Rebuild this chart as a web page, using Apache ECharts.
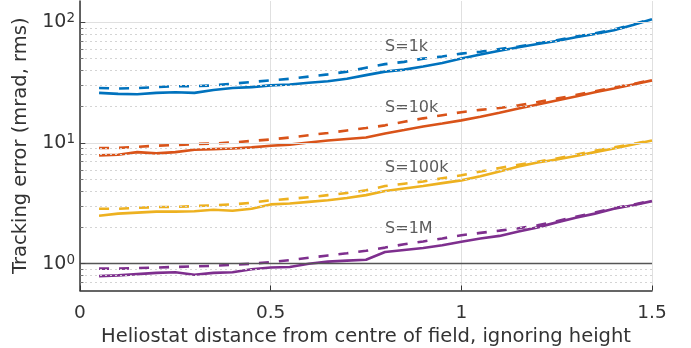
<!DOCTYPE html>
<html><head><meta charset="utf-8">
<script src="https://cdn.jsdelivr.net/npm/echarts@6/dist/echarts.min.js"></script>
<style>html,body{margin:0;padding:0;background:#fff}#c{width:691px;height:348px}</style>
</head><body><div id="c"></div>
<script>
const xValues = [0.05,0.1,0.15,0.2,0.25,0.3,0.35,0.4,0.45,0.5,0.55,0.6,0.65,0.7,0.75,0.8,0.85,0.9,0.95,1.0,1.05,1.1,1.15,1.2,1.25,1.3,1.35,1.4,1.45,1.5];

const s1kSolid  = [26,25.5,25.3,26,26.3,26,27.5,28.5,29,30,30.5,31.5,32.5,34,36.5,39,40.5,43,46,50,54,58,62,66,70,75,80,86,95,106];
const s1kDashed = [28.5,28.3,28.5,29,29.5,29.5,30,31,32,33,34,35.5,37,39,42,45,47,50,52,55,57,60,63,67,71,76,81,87,96,107];
const s10kSolid  = [7.9,8.0,8.4,8.2,8.4,8.8,8.9,9.0,9.2,9.5,9.7,10.1,10.5,10.8,11.1,12.0,12.8,13.7,14.5,15.4,16.5,17.8,19.3,20.8,22.5,24.3,26.3,28.3,30.5,33];
const s10kDashed = [9.1,9.1,9.3,9.5,9.6,9.8,9.9,10.1,10.4,10.7,11.1,11.6,12.1,12.7,13.3,14.0,15.0,16.0,17.0,18.0,18.8,19.5,20.5,21.8,23.3,25,26.8,28.7,30.8,33.3];
const s100kSolid  = [2.5,2.6,2.65,2.7,2.7,2.72,2.8,2.75,2.85,3.1,3.15,3.25,3.35,3.5,3.7,4.0,4.2,4.4,4.65,4.9,5.3,5.8,6.4,6.9,7.3,7.8,8.4,9.0,9.7,10.5];
const s100kDashed = [2.85,2.85,2.9,2.95,2.95,3.0,3.05,3.1,3.2,3.35,3.45,3.55,3.7,3.85,4.05,4.4,4.6,4.8,5.1,5.4,5.8,6.2,6.6,7.0,7.45,8.0,8.6,9.2,9.8,10.6];
const s1MSolid  = [0.79,0.80,0.82,0.84,0.85,0.81,0.84,0.85,0.90,0.93,0.94,1.0,1.04,1.06,1.08,1.25,1.3,1.35,1.42,1.52,1.62,1.7,1.85,2.0,2.2,2.4,2.6,2.85,3.05,3.3];
const s1MDashed = [0.91,0.91,0.92,0.93,0.94,0.95,0.96,0.98,1.0,1.03,1.07,1.12,1.17,1.22,1.28,1.36,1.45,1.53,1.62,1.72,1.8,1.88,1.97,2.08,2.25,2.45,2.65,2.88,3.08,3.33];

const annotText = ['S=1k','S=10k','S=100k','S=1M'];
const annotX = [0.80,0.80,0.80,0.80];
const annotY = [63,19.5,6.2,1.94];

const minorGrid = [0.7,0.8,0.9,2,3,4,5,6,7,8,9,20,30,40,50,60,70,80,90];
const majorGrid = [10,100];
const unityLine = [1];
const majorTickVals = [1,10,100];

const colors = ['#0072BD','#D95319','#EDB120','#7E2F8E'];
const FONT = '"DejaVu Sans", sans-serif';
const TXT = '#333';

const pairs = [[s1kSolid,s1kDashed],[s10kSolid,s10kDashed],[s100kSolid,s100kDashed],[s1MSolid,s1MDashed]];
const series = [];
function gridLines(vals, style){
  return {type:'line', data:[], silent:true, z:1,
    markLine:{silent:true, symbol:'none', label:{show:false}, animation:false, lineStyle:style,
      data: vals.map(v=>({yAxis:v}))}};
}
function tickMarks(vals, x0, x1, style){
  return {type:'line', data:[], silent:true, z:2,
    markLine:{silent:true, symbol:'none', label:{show:false}, animation:false, lineStyle:style,
      data: vals.map(v=>[{coord:[x0,v]},{coord:[x1,v]}])}};
}
series.push(gridLines(minorGrid, {color:'#d4d4d4', width:1, type:[2,3]}));
series.push(gridLines(majorGrid, {color:'#e0e0e0', width:1, type:'solid'}));
series.push(gridLines(unityLine, {color:'#555', width:1.3, type:'solid'}));
series.push(tickMarks(minorGrid, 0, 0.009, {color:'#777', width:1, type:'solid'}));
series.push(tickMarks(majorTickVals, 0, 0.014, {color:'#444', width:1, type:'solid'}));
pairs.forEach((p,k)=>{
  series.push({type:'line', data:xValues.map((x,i)=>[x,p[0][i]]), showSymbol:false, symbol:'none',
    lineStyle:{color:colors[k], width:2.6}, z:3, animation:false});
  series.push({type:'line', data:xValues.map((x,i)=>[x,p[1][i]]), showSymbol:false, symbol:'none',
    lineStyle:{color:colors[k], width:2.6, type:[10,10]}, z:3, animation:false});
});
series.push({type:'scatter', symbolSize:0, animation:false, z:5,
  data: annotText.map((t,i)=>({value:[annotX[i],annotY[i]], name:t})),
  label:{show:true, position:'right', distance:0, formatter:p=>p.name, color:TXT, fontSize:16, fontFamily:FONT, align:'left', verticalAlign:'middle'}
});

const chart = echarts.init(document.getElementById('c'), null, {renderer:'canvas'});
chart.setOption({
  animation:false,
  backgroundColor:'#fff',
  grid:{left:80, right:39, top:1, bottom:57.5, containLabel:false, outerBoundsMode:'none'},
  xAxis:{type:'value', min:0, max:1.5, interval:0.5,
    name:'Heliostat distance from centre of field, ignoring height', nameLocation:'middle', nameGap:29,
    nameTextStyle:{fontSize:19.5, color:TXT, fontFamily:FONT},
    axisLine:{show:true, lineStyle:{color:'#333', width:1.5}},
    axisTick:{show:true, inside:true, length:5, lineStyle:{color:'#333'}},
    axisLabel:{fontSize:18.5, color:TXT, fontFamily:FONT, margin:13},
    splitLine:{show:true, lineStyle:{color:'#e0e0e0', width:1}}
  },
  yAxis:{type:'log', logBase:10, min:0.6, max:150,
    name:'Tracking error (mrad, rms)', nameLocation:'middle', nameGap:43, nameRotate:90,
    nameTextStyle:{fontSize:19.5, color:TXT, fontFamily:FONT},
    axisLine:{show:true, lineStyle:{color:'#333', width:1.5}},
    axisTick:{show:false},
    axisLabel:{margin:5, color:TXT, fontFamily:FONT,
      formatter:function(v){const l=Math.log10(v);const n=Math.round(l); if(Math.abs(l-n)>1e-6) return ''; return '{b|10}{s|'+n+'}';},
      rich:{b:{fontSize:19, color:TXT, fontFamily:FONT}, s:{fontSize:13.5, color:TXT, fontFamily:FONT, verticalAlign:'top', padding:[0,0,7,0]}}
    },
    splitLine:{show:false}
  },
  series: series
});
</script></body></html>
